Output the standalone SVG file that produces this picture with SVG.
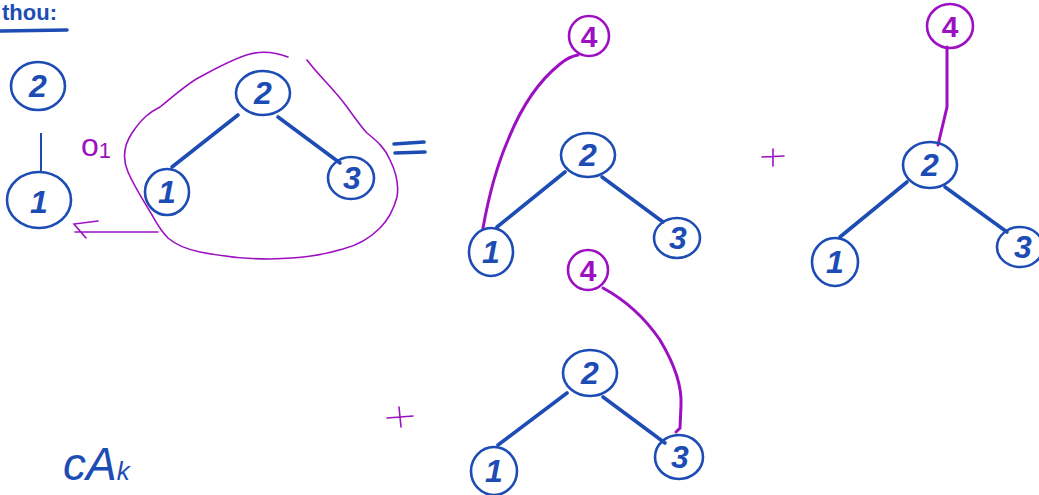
<svg xmlns="http://www.w3.org/2000/svg" width="1039" height="495" viewBox="0 0 1039 495">
<style>
.nb{fill:none;stroke:#1c4cb4;stroke-width:2.6}
.np{fill:none;stroke:#9d10c2;stroke-width:2.6}
.tb{font-family:"Liberation Sans",sans-serif;font-size:32px;font-weight:bold;fill:#1c4cb4;text-anchor:middle;font-style:italic}
.tp{font-family:"Liberation Sans",sans-serif;font-size:30px;font-weight:bold;fill:#9d10c2;text-anchor:middle}
.eb{fill:none;stroke:#1c4cb4;stroke-width:3.6;stroke-linecap:round}
.ep{fill:none;stroke:#9d10c2;stroke-width:3;stroke-linecap:round}
.lp{fill:none;stroke:#9d10c2;stroke-width:1.6;stroke-linecap:round}
</style>
<rect width="1039" height="495" fill="#fff"/>
<g id="title">
<text x="2" y="20" font-family="Liberation Sans,sans-serif" font-size="22" font-weight="bold" fill="#1c4cb4">thou:</text>
<line x1="0" y1="31" x2="67" y2="30" class="eb"/>
</g>
<g id="connectors">
<line x1="41" y1="133" x2="41" y2="172" stroke="#1c4cb4" stroke-width="2"/>
<line x1="238" y1="115" x2="172" y2="167" class="eb"/>
<line x1="278" y1="117" x2="340" y2="163" class="eb"/>
<line x1="565" y1="172" x2="497" y2="227" class="eb"/>
<line x1="602" y1="177" x2="663" y2="222" class="eb"/>
<path d="M483,228 C488,200 495,170 508,140 C522,105 540,80 560,64 C566,59 572,56 578,55" class="ep"/>
<line x1="907" y1="182" x2="840" y2="237" class="eb"/>
<line x1="945" y1="187" x2="1007" y2="232" class="eb"/>
<path d="M947,47 L947,107 L938,145" class="ep"/>
<line x1="567" y1="393" x2="498" y2="445" class="eb"/>
<line x1="603" y1="397" x2="665" y2="443" class="eb"/>
<path d="M603,288 C625,300 645,318 660,340 C675,365 682,385 681,405 L680,428 L676,432" class="ep"/>
<path d="M158,232 L75,232 M98,221 L74,224 L86,238" class="lp"/>
</g>
<g id="blob">
<path d="M307,60 C318,75 335,90 347,107 C355,118 362,128 367,133 C378,142 385,148 390,160 C396,172 399,185 397,197 C393,212 388,220 380,228 C368,240 355,246 343,249 C320,256 300,258 270,259 C245,259 220,256 200,252 C185,249 175,244 168,238 C160,230 156,222 152,215 C145,203 135,188 128,172 C122,158 124,145 132,133 C142,118 150,112 160,107 C175,95 188,83 200,77 C220,66 235,58 250,54 C262,51 275,52 288,57" class="lp"/>
</g>
<g id="label-o1">
<text x="96" y="156" font-family="Liberation Sans,sans-serif" font-size="32" fill="#9d10c2" text-anchor="middle">o<tspan font-size="22" dy="2">1</tspan></text>
</g>
<g id="n2a"><ellipse cx="38" cy="86" rx="27" ry="24" class="nb"/><text x="38" y="97" class="tb">2</text></g>
<g id="n1a"><ellipse cx="39" cy="200" rx="32" ry="28" class="nb"/><text x="39" y="213" class="tb" font-size="38">1</text></g>
<g id="n2b"><ellipse cx="263" cy="93" rx="27" ry="22" class="nb"/><text x="263" y="104" class="tb">2</text></g>
<g id="n1b"><ellipse cx="167" cy="192" rx="22" ry="23" class="nb"/><text x="167" y="203" class="tb">1</text></g>
<g id="n3b"><ellipse cx="351" cy="178" rx="23" ry="21" class="nb"/><text x="352" y="189" class="tb">3</text></g>
<g id="eq"><path d="M394,144 L424,142 M395,153 L425,152" class="eb"/></g>
<g id="n4c"><ellipse cx="589" cy="36" rx="20" ry="20" class="np"/><text x="589" y="47" class="tp">4</text></g>
<g id="n2c"><ellipse cx="588" cy="155" rx="27" ry="22" class="nb"/><text x="588" y="166" class="tb">2</text></g>
<g id="n1c"><ellipse cx="491" cy="252" rx="22" ry="24" class="nb"/><text x="491" y="263" class="tb">1</text></g>
<g id="n3c"><ellipse cx="677" cy="238" rx="23" ry="20" class="nb"/><text x="678" y="249" class="tb">3</text></g>
<g id="plus1"><path d="M762,157 L784,156 M773,149 L773,166" class="lp"/></g>
<g id="n4d"><ellipse cx="950" cy="26" rx="23" ry="22" class="np"/><text x="950" y="37" class="tp">4</text></g>
<g id="n2d"><ellipse cx="930" cy="165" rx="27" ry="23" class="nb"/><text x="930" y="176" class="tb">2</text></g>
<g id="n1d"><ellipse cx="835" cy="262" rx="23" ry="24" class="nb"/><text x="835" y="273" class="tb">1</text></g>
<g id="n3d"><ellipse cx="1020" cy="247" rx="23" ry="20" class="nb"/><text x="1023" y="258" class="tb">3</text></g>
<g id="n4e"><ellipse cx="588" cy="270" rx="20" ry="20" class="np"/><text x="588" y="281" class="tp">4</text></g>
<g id="n2e"><ellipse cx="590" cy="373" rx="27" ry="23" class="nb"/><text x="590" y="384" class="tb">2</text></g>
<g id="n1e"><ellipse cx="494" cy="471" rx="23" ry="24" class="nb"/><text x="494" y="482" class="tb">1</text></g>
<g id="n3e"><ellipse cx="679" cy="457" rx="24" ry="22" class="nb"/><text x="680" y="468" class="tb">3</text></g>
<g id="plus2"><path d="M387,418 L413,416 M399,407 L401,427" class="lp"/></g>
<g id="label-cak">
<text x="63" y="480" font-family="Liberation Sans,sans-serif" font-size="46" fill="#1c4cb4" font-style="italic">cA<tspan font-size="26">k</tspan></text>
</g>
</svg>
